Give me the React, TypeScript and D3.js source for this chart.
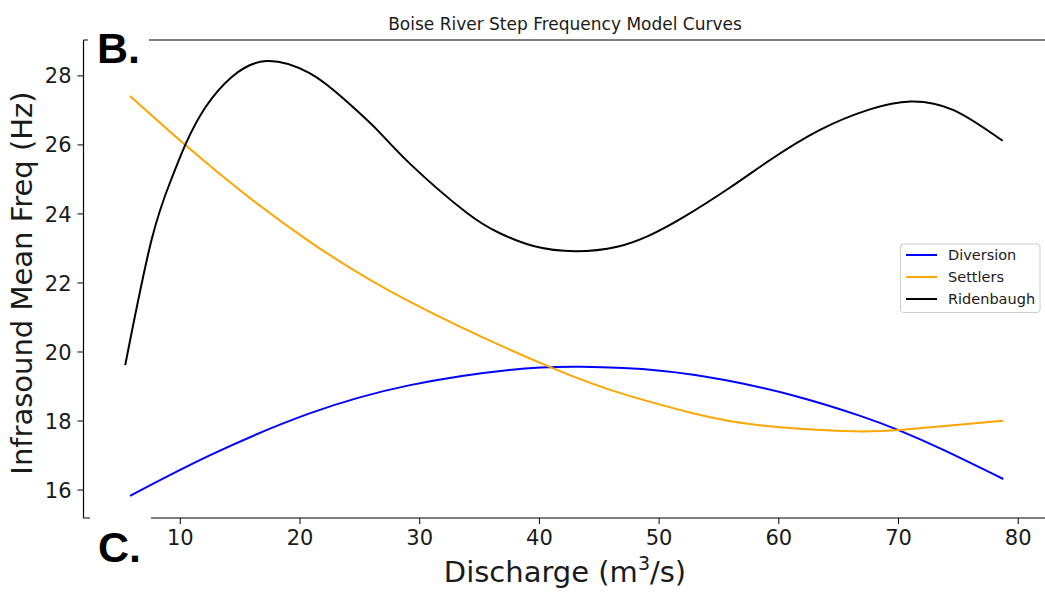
import React from "react";
import * as d3 from "d3";

const title = "Boise River Step Frequency Model Curves";
const seriesNames = ["Diversion", "Settlers", "Ridenbaugh"];
const seriesColors = ["#0000ff", "#ffa500", "#000000"];

const xTicks = [10, 20, 30, 40, 50, 60, 70, 80];
const yTicks = [16, 18, 20, 22, 24, 26, 28];

// Diversion (blue)
const diversionX = [5.8, 12.5, 20.8, 29.2, 37.5, 43.5, 50.1, 55.6, 61.2, 66.8, 70.1, 73.7, 78.75];
const diversionY = [15.83, 17.01, 18.22, 19.04, 19.48, 19.57, 19.46, 19.18, 18.74, 18.15, 17.72, 17.17, 16.32];

// Settlers (orange)
const settlersX = [5.8, 10.48, 15.3, 20.8, 29.2, 40.9, 47.3, 52.9, 58.4, 65.4, 70.1, 78.75];
const settlersY = [27.42, 25.98, 24.6, 23.2, 21.45, 19.56, 18.75, 18.22, 17.88, 17.71, 17.74, 18.01];

// Ridenbaugh (black)
const ridenbaughX = [5.4, 7.6, 9.3, 10.48, 12.1, 14.3, 17.2, 20.8, 23.6, 26.4, 29.2, 33.9, 36.7, 39.5, 43.0, 46.5, 49.2, 52.0, 55.9, 59.3, 63.4, 67.6, 71.0, 74.6, 78.7];
const ridenbaughY = [19.62, 23.25, 25.05, 26.05, 27.09, 27.97, 28.43, 28.08, 27.35, 26.45, 25.45, 24.04, 23.44, 23.07, 22.92, 23.05, 23.38, 23.9, 24.76, 25.57, 26.43, 27.03, 27.26, 27.01, 26.12];

const xDomain = [1.914, 82.32];
const yDomain = [15.19, 29.04];

export default function App() {
  const W = 1045, H = 602;
  const left = 83.5, right = 1046, top = 40, bottom = 518;
  const x = d3.scaleLinear().domain(xDomain).range([left, right]);
  const y = d3.scaleLinear().domain(yDomain).range([bottom, top]);
  const line = d3
    .line<[number, number]>()
    .x((d) => x(d[0]))
    .y((d) => y(d[1]))
    .curve(d3.curveNatural);

  const series = [
    { xs: diversionX, ys: diversionY },
    { xs: settlersX, ys: settlersY },
    { xs: ridenbaughX, ys: ridenbaughY },
  ];

  const font = "'DejaVu Sans', sans-serif";
  const textColor = "#1a1a1a";

  return (
    <svg
      width={W}
      height={H}
      style={{ position: "absolute", left: 0, top: 0, background: "#fff" }}
      fontFamily={font}
    >
      <rect x={0} y={0} width={W} height={H} fill="#fff" />
      {/* title */}
      <text x={565} y={30} textAnchor="middle" fontSize={17} fill={textColor}>
        {title}
      </text>

      {/* curves */}
      {series.map((s, i) => (
        <path
          key={i}
          d={line(s.xs.map((v, j) => [v, s.ys[j]]) as [number, number][]) || ""}
          fill="none"
          stroke={seriesColors[i]}
          strokeWidth={2}
        />
      ))}

      {/* spines */}
      <line x1={left} x2={left} y1={top} y2={bottom} stroke="#000" strokeWidth={1.2} />
      <line x1={left} x2={right} y1={top} y2={top} stroke="#000" strokeWidth={1.2} />
      <line x1={left} x2={right} y1={bottom} y2={bottom} stroke="#000" strokeWidth={1.2} />

      {/* y ticks */}
      {yTicks.map((t) => (
        <g key={"y" + t}>
          <line x1={left - 6} x2={left} y1={y(t)} y2={y(t)} stroke="#000" strokeWidth={1} />
          <text x={left - 12} y={y(t)} dy="0.36em" textAnchor="end" fontSize={21} fill={textColor}>
            {t}
          </text>
        </g>
      ))}

      {/* x ticks */}
      {xTicks.map((t) => (
        <g key={"x" + t}>
          <line x1={x(t)} x2={x(t)} y1={bottom} y2={bottom + 6} stroke="#000" strokeWidth={1} />
          <text x={x(t)} y={545} textAnchor="middle" fontSize={21} fill={textColor}>
            {t}
          </text>
        </g>
      ))}

      {/* axis labels */}
      <text x={565} y={582} textAnchor="middle" fontSize={29} fill={textColor}>
        Discharge (m
        <tspan fontSize={19} dy={-12}>3</tspan>
        <tspan dy={12}>/s)</tspan>
      </text>
      <text
        transform={`translate(32,283) rotate(-90)`}
        textAnchor="middle"
        fontSize={29}
        fill={textColor}
      >
        Infrasound Mean Freq (Hz)
      </text>

      {/* panel labels */}
      <rect x={88} y={22} width={61} height={48} fill="#fff" />
      <text x={97} y={63.3} fontSize={43} fontWeight="bold" fontFamily="'Liberation Sans', Arial, sans-serif" fill="#000">
        B.
      </text>
      <rect x={90} y={510} width={61} height={60} fill="#fff" />
      <text x={98} y={561.7} fontSize={43} fontWeight="bold" fontFamily="'Liberation Sans', Arial, sans-serif" fill="#000">
        C.
      </text>

      {/* legend */}
      <rect x={900.5} y={244} width={139.5} height={68.5} rx={3} fill="#fff" fillOpacity={0.8} stroke="#cccccc" strokeWidth={1} />
      {seriesNames.map((n, i) => {
        const ly = 255 + i * 22;
        return (
          <g key={n}>
            <line x1={906} x2={937} y1={ly} y2={ly} stroke={seriesColors[i]} strokeWidth={2} />
            <text x={948} y={ly} dy="0.36em" fontSize={14.5} fill={textColor}>
              {n}
            </text>
          </g>
        );
      })}
    </svg>
  );
}
